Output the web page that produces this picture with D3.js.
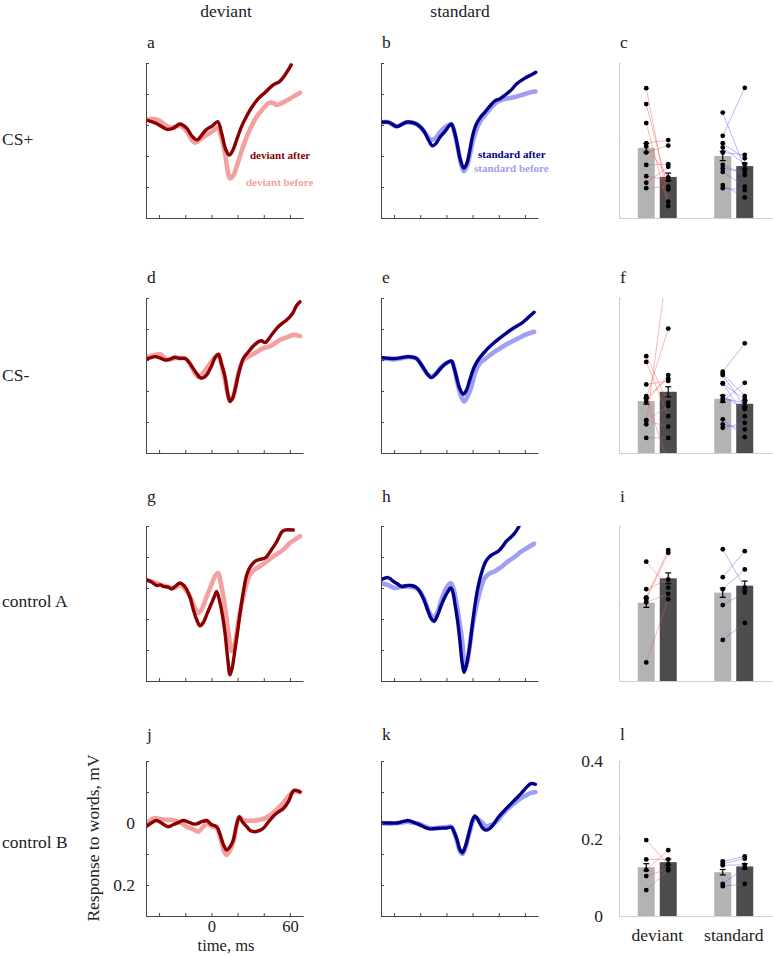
<!DOCTYPE html>
<html><head><meta charset="utf-8">
<script src="https://cdn.jsdelivr.net/npm/d3@7"></script>
<style>
body{margin:0;background:#fff;}
svg text{font-family:"Liberation Serif","DejaVu Serif","Times New Roman",serif;}
</style></head><body><svg id="chart" width="773" height="955" font-family="Liberation Serif, DejaVu Serif, serif"></svg>
<script>
// ---------------- DATA ----------------
const columnTitles = ["deviant", "standard"];
const rowLabels = ["CS+", "CS-", "control A", "control B"];
const panelLetters = [["a","b","c"],["d","e","f"],["g","h","i"],["j","k","l"]];
const timeTicks = [-40, -20, 0, 20, 40, 60];
const timeTickLabels = [0, 60];
const ampTicks = [-0.2, -0.1, 0, 0.1, 0.2, 0.3];
const ampTickLabels = [0, 0.2];
const barTicks = [0, 0.2, 0.4];
const conditions = ["deviant", "standard"];
const sessions = ["before", "after"];
const legendA = ["deviant after", "deviant before"];
const legendB = ["standard after", "standard before"];

// traces: [time (ms), response (mV)]
const csPlusDevAfter = [[-50,-0.016],[-43,-0.007],[-38,0.005],[-34,0.014],[-29,0.010],[-24,-0.003],[-19,0.010],[-15,0.035],[-11,0.048],[-7,0.030],[-3.6,0.014],[1,0.002],[4.8,-0.011],[8,0.030],[11,0.080],[13.7,0.097],[16,0.085],[19.3,0.048],[23,0.005],[27,-0.029],[31,-0.058],[36,-0.086],[41,-0.105],[47,-0.129],[52,-0.140],[56,-0.160],[61,-0.194]];
const csPlusDevBefore = [[-50,-0.016],[-45,-0.020],[-40.6,-0.016],[-36,-0.002],[-32,0.008],[-28,0.006],[-24,0.003],[-19,0.020],[-15,0.048],[-12.5,0.057],[-8,0.045],[-3.6,0.032],[1,0.020],[4.8,0.008],[7.5,0.040],[10.4,0.091],[12.5,0.150],[14.2,0.172],[16.5,0.165],[19.3,0.134],[23,0.085],[27,0.038],[30.5,0.005],[34.6,-0.027],[39,-0.050],[43.5,-0.070],[46.5,-0.072],[49.8,-0.065],[54.9,-0.073],[60,-0.085],[64,-0.095],[67.7,-0.104]];
const csPlusStdAfter = [[-50,-0.009],[-44.6,-0.009],[-41,-0.002],[-38.2,0.005],[-34,-0.002],[-30.6,-0.009],[-26,-0.008],[-22.9,-0.003],[-19.5,0.008],[-16.6,0.024],[-13.5,0.050],[-10.7,0.067],[-8,0.060],[-5.1,0.040],[-1,0.020],[2,0.003],[3.8,-0.003],[6,0.020],[8.2,0.061],[10.5,0.110],[13.3,0.139],[15.5,0.125],[17.8,0.083],[20,0.035],[22.9,-0.003],[26,-0.025],[29.3,-0.041],[33,-0.060],[37,-0.078],[41,-0.085],[45.9,-0.100],[50,-0.115],[53.5,-0.132],[57,-0.143],[61.2,-0.154],[65,-0.162],[68.3,-0.170]];
const csPlusStdBefore = [[-50,-0.009],[-44.6,-0.009],[-38.2,0.005],[-30.6,-0.009],[-22.9,-0.003],[-19.5,0.008],[-16.6,0.024],[-13.5,0.042],[-11.5,0.048],[-8,0.042],[-5.1,0.024],[-1,0.008],[3.8,-0.003],[6.5,0.030],[9,0.080],[11.5,0.130],[13.3,0.149],[15.5,0.135],[17.8,0.099],[21,0.040],[25.5,-0.009],[30,-0.035],[34,-0.055],[38.2,-0.073],[43,-0.082],[48.4,-0.087],[52,-0.090],[56,-0.095],[60,-0.100],[63.7,-0.105],[68,-0.108]];

const csMinusDevAfter = [[-50,-0.003],[-46,-0.008],[-43,-0.011],[-39,-0.006],[-35.5,0],[-31,-0.004],[-28,-0.009],[-24,-0.005],[-20,-0.005],[-17,0.008],[-14,0.027],[-11,0.045],[-8.7,0.057],[-6,0.057],[-3.6,0.048],[0,0.020],[3,-0.010],[5.3,-0.019],[7.5,0.010],[10.4,0.054],[12.5,0.110],[14.2,0.134],[16,0.125],[18,0.097],[21,0.040],[24.4,-0.005],[28,-0.025],[32,-0.045],[35.9,-0.059],[38.5,-0.062],[41,-0.056],[45,-0.075],[49.9,-0.102],[54,-0.118],[57.5,-0.129],[62,-0.150],[65,-0.175],[67.7,-0.188]];
const csMinusDevBefore = [[-50,-0.008],[-44,-0.015],[-39,-0.019],[-34,0],[-28,-0.006],[-20,-0.005],[-16,0.015],[-13,0.040],[-10,0.054],[-5,0.035],[-1,0.011],[2,-0.005],[5.3,-0.016],[8,0.020],[11,0.080],[14.2,0.129],[16.5,0.120],[19,0.075],[21.5,0.030],[24.4,0],[28,-0.010],[33,-0.022],[39.7,-0.038],[45,-0.045],[52.4,-0.065],[57,-0.072],[62.6,-0.081],[67.7,-0.077]];
const csMinusStdAfter = [[-50,-0.008],[-45,-0.006],[-39.5,-0.005],[-34,-0.008],[-29.3,-0.011],[-26,-0.009],[-23,-0.005],[-20,0.010],[-16.6,0.032],[-14,0.048],[-11.5,0.057],[-8,0.045],[-3.8,0.024],[0,0.010],[3.8,0.003],[5.8,0.025],[7.6,0.054],[10,0.090],[12.7,0.110],[15,0.100],[17.8,0.065],[21,0.025],[24.2,0],[29,-0.025],[34.4,-0.048],[40,-0.068],[47.1,-0.091],[52,-0.105],[57.3,-0.118],[62,-0.135],[67,-0.154]];
const csMinusStdBefore = [[-50,-0.005],[-44,-0.003],[-39.5,-0.002],[-34,-0.006],[-29.3,-0.010],[-23,-0.005],[-20,0.010],[-16.6,0.034],[-14,0.048],[-11.5,0.054],[-8,0.043],[-3.8,0.022],[0,0.010],[3.8,0.005],[6.5,0.035],[9,0.085],[11.5,0.120],[13.5,0.134],[16,0.118],[19.1,0.086],[22,0.040],[25.5,0.011],[30,-0.005],[37,-0.027],[43,-0.043],[49.7,-0.059],[55,-0.070],[59.9,-0.081],[64,-0.087],[67,-0.091]];

const ctrlADevAfter = [[-50,-0.027],[-46,-0.020],[-41.8,-0.008],[-39,-0.010],[-36.7,-0.005],[-33,-0.003],[-30.4,0.003],[-27,-0.008],[-24,-0.016],[-21,-0.008],[-18.9,0.005],[-16,0.035],[-13.8,0.070],[-11,0.105],[-8.7,0.122],[-6,0.110],[-3.6,0.086],[0,0.050],[2.5,0.025],[4,0.011],[6.6,0.048],[8.5,0.090],[10.4,0.145],[12.5,0.230],[14.2,0.280],[16,0.255],[18,0.199],[20,0.140],[21.9,0.081],[24.5,0.010],[27,-0.043],[30,-0.070],[33.3,-0.086],[37,-0.092],[41,-0.097],[46,-0.124],[50,-0.150],[53.7,-0.180],[56,-0.187],[62.6,-0.187]];
const ctrlADevBefore = [[-50,-0.027],[-45,-0.020],[-39.2,-0.011],[-34,-0.005],[-29,0],[-26,-0.005],[-24,-0.011],[-20,0.005],[-16.4,0.027],[-13,0.060],[-10,0.081],[-7,0.065],[-3.6,0.027],[0,-0.010],[3,-0.040],[5.3,-0.048],[7,-0.020],[9.1,0.027],[11,0.080],[13,0.145],[15.5,0.204],[17.5,0.185],[19.3,0.145],[21.5,0.085],[24.4,0.027],[27,-0.015],[29.5,-0.043],[33,-0.060],[37.1,-0.070],[42,-0.085],[47.3,-0.102],[51,-0.112],[55,-0.124],[60,-0.145],[64,-0.157],[67.7,-0.167]];
const ctrlAStdAfter = [[-50,-0.027],[-47,-0.032],[-45,-0.034],[-43,-0.030],[-40.8,-0.022],[-37,-0.012],[-34.4,-0.005],[-30,-0.008],[-26.8,-0.008],[-23,-0.002],[-20.4,0.011],[-17,0.040],[-14,0.075],[-11.5,0.100],[-9.4,0.108],[-6.5,0.085],[-3.8,0.054],[0,0.020],[3.3,0],[5,0.015],[6.4,0.048],[8.5,0.105],[10.2,0.167],[12,0.240],[13.5,0.272],[15.5,0.245],[17.8,0.188],[19.8,0.120],[21.7,0.059],[24,0.000],[26.8,-0.048],[30,-0.085],[33.1,-0.102],[36,-0.110],[39.5,-0.118],[42.5,-0.132],[45.9,-0.151],[49,-0.163],[52.2,-0.177],[55,-0.195],[57,-0.215]];
const ctrlAStdBefore = [[-50,-0.016],[-45,-0.010],[-39.5,0],[-34,-0.004],[-29.3,-0.005],[-25,-0.002],[-21.7,0.005],[-17,0.035],[-14,0.070],[-11.5,0.090],[-9.4,0.097],[-6.5,0.075],[-3.8,0.038],[0,0.000],[3.3,-0.016],[5.5,0.005],[7.6,0.048],[10,0.110],[12,0.167],[14,0.263],[15.8,0.240],[17.8,0.188],[20,0.120],[22.9,0.059],[26,0.005],[29.3,-0.032],[33,-0.047],[37,-0.054],[42,-0.068],[47.1,-0.086],[52,-0.100],[57.3,-0.118],[62,-0.130],[67,-0.143]];

const ctrlBDevAfter = [[-50,0.012],[-46,0.000],[-41.8,-0.008],[-37,0.003],[-33,0.012],[-29,0.005],[-25,-0.002],[-21.5,-0.008],[-17,-0.002],[-14,0.003],[-11.3,0.003],[-7,-0.005],[-3.6,-0.008],[0,0.005],[4,0.012],[6.5,0.035],[9,0.068],[11.7,0.087],[14,0.078],[16.8,0.054],[19,0.010],[21.3,-0.020],[23.5,-0.005],[27,0.012],[30,0.025],[33.3,0.028],[37,0.024],[39.7,0.017],[43,0.000],[47.3,-0.022],[51,-0.035],[55,-0.047],[59,-0.070],[62.6,-0.104],[65,-0.105],[67.7,-0.100]];
const ctrlBDevBefore = [[-50,0.006],[-44.4,-0.015],[-38,-0.012],[-33,-0.010],[-29,-0.010],[-23,0.000],[-18.9,0.012],[-14,0.020],[-10,0.028],[-6,0.010],[-3.6,0.001],[0,0.010],[4,0.017],[7,0.050],[9.5,0.090],[11.7,0.103],[14,0.090],[16.8,0.060],[19,0.015],[21.3,-0.018],[24,-0.010],[27,-0.008],[33,-0.008],[39.7,-0.013],[45,-0.025],[49.8,-0.043],[55,-0.065],[60,-0.091],[64,-0.103],[67.7,-0.100]];
const ctrlBStdAfter = [[-50,0],[-44,0],[-38.2,0],[-33,-0.005],[-29.3,-0.008],[-25,-0.002],[-20.4,0.006],[-16,0.015],[-12.7,0.019],[-9,0.018],[-5.1,0.017],[0,0.016],[3.8,0.014],[6,0.030],[8.2,0.055],[10.2,0.085],[12.2,0.096],[14.5,0.075],[17.8,0.023],[20,-0.010],[21.7,-0.023],[23.5,-0.015],[25.5,0.001],[28,0.018],[30.1,0.023],[33,0.018],[35.7,0.006],[40,-0.020],[45.9,-0.047],[50,-0.065],[53.5,-0.080],[57,-0.095],[61.2,-0.115],[64.5,-0.127],[68,-0.125]];
const ctrlBStdBefore = [[-50,0],[-44,0.002],[-38.2,0.001],[-33,-0.002],[-29.3,-0.004],[-25,0.000],[-20.4,0.003],[-16,0.012],[-12.7,0.017],[-5.1,0.015],[0,0.013],[3.8,0.012],[6,0.030],[8.2,0.060],[10.2,0.090],[12.2,0.100],[14.5,0.080],[17.8,0.028],[20,-0.005],[21.7,-0.018],[23.5,-0.013],[26.8,-0.004],[30.6,0.012],[33,0.008],[37,0.000],[41,-0.018],[45.9,-0.042],[50,-0.057],[53.5,-0.069],[57,-0.080],[61.2,-0.090],[64.5,-0.097],[68,-0.100]];

// bar panels: means & SEM in order [dev before, dev after, std before, std after]
const csPlusMeans = [0.181, 0.106, 0.160, 0.134];
const csPlusSem = [0.011, 0.010, 0.012, 0.008];
const csMinusMeans = [0.134, 0.158, 0.140, 0.127];
const csMinusSem = [0.008, 0.013, 0.009, 0.008];
const ctrlAMeans = [0.202, 0.265, 0.228, 0.246];
const ctrlASem = [0.012, 0.014, 0.012, 0.012];
const ctrlBMeans = [0.126, 0.139, 0.113, 0.128];
const ctrlBSem = [0.009, 0.008, 0.007, 0.007];

// individual subjects (paired before -> after)
const csPlusDevSubjBefore = [0.335, 0.294, 0.245, 0.193, 0.185, 0.169, 0.137, 0.108, 0.091, 0.077];
const csPlusDevSubjAfter  = [0.042, 0.074, 0.031, 0.201, 0.105, 0.187, 0.139, 0.098, 0.132, 0.081];
const csPlusStdSubjBefore = [0.272, 0.212, 0.193, 0.182, 0.169, 0.137, 0.128, 0.119, 0.085, 0.077];
const csPlusStdSubjAfter  = [0.128, 0.336, 0.154, 0.139, 0.163, 0.111, 0.119, 0.081, 0.053, 0.072];
const csMinusDevSubjBefore = [0.250, 0.235, 0.147, 0.074, 0.143, 0.132, 0.083, 0.039, 0.177, 0.085, 0.140];
const csMinusDevSubjAfter  = [0.130, 0.095, -0.030, 0.500, 0.192, 0.201, 0.068, 0.039, 0.186, 0.121, 0.321];
const csMinusStdSubjBefore = [0.210, 0.201, 0.205, 0.180, 0.179, 0.147, 0.140, 0.134, 0.087, 0.074, 0.065];
const csMinusStdSubjAfter  = [0.283, 0.119, 0.147, 0.095, 0.139, 0.113, 0.130, 0.181, 0.041, 0.061, 0.078];
const ctrlADevSubjBefore = [0.308, 0.237, 0.216, 0.210, 0.203, 0.048];
const ctrlADevSubjAfter  = [0.241, 0.262, 0.338, 0.331, 0.225, 0.211];
const ctrlAStdSubjBefore = [0.340, 0.268, 0.237, 0.196, 0.106];
const ctrlAStdSubjAfter  = [0.241, 0.335, 0.288, 0.228, 0.150];
const ctrlBDevSubjBefore = [0.196, 0.146, 0.119, 0.103, 0.067];
const ctrlBDevSubjAfter  = [0.133, 0.146, 0.170, 0.122, 0.118];
const ctrlBStdSubjBefore = [0.141, 0.135, 0.131, 0.083, 0.077];
const ctrlBStdSubjAfter  = [0.154, 0.148, 0.132, 0.124, 0.083];

// ---------------- LAYOUT ----------------
const FONT = '"Liberation Serif", "DejaVu Serif", "Times New Roman", serif';
const FS = 17.5;
const svg = d3.select("#chart");
const rowTops = [63, 298, 526, 761];
const panelH = 155;
const lineCols = [[146, 303], [381, 538]];
const barRange = [619, 772];
const letterY = [48, 283, 502, 740];
const rowLabelY = [145, 381, 607, 848];
const colors = {
  dev: {before: "#f5a0a0", after: "#8b0000", link: "#f05a5a"},
  std: {before: "#a0a0f2", after: "#00008b", link: "#5a5af0"}
};
const barFill = {before: "#b3b3b3", after: "#4d4d4d"};

const traces = [
  [[csPlusDevBefore, csPlusDevAfter], [csPlusStdBefore, csPlusStdAfter]],
  [[csMinusDevBefore, csMinusDevAfter], [csMinusStdBefore, csMinusStdAfter]],
  [[ctrlADevBefore, ctrlADevAfter], [ctrlAStdBefore, ctrlAStdAfter]],
  [[ctrlBDevBefore, ctrlBDevAfter], [ctrlBStdBefore, ctrlBStdAfter]]
];
const barMeans = [csPlusMeans, csMinusMeans, ctrlAMeans, ctrlBMeans];
const barSems = [csPlusSem, csMinusSem, ctrlASem, ctrlBSem];
const subjects = [
  [[csPlusDevSubjBefore, csPlusDevSubjAfter], [csPlusStdSubjBefore, csPlusStdSubjAfter]],
  [[csMinusDevSubjBefore, csMinusDevSubjAfter], [csMinusStdSubjBefore, csMinusStdSubjAfter]],
  [[ctrlADevSubjBefore, ctrlADevSubjAfter], [ctrlAStdSubjBefore, ctrlAStdSubjAfter]],
  [[ctrlBDevSubjBefore, ctrlBDevSubjAfter], [ctrlBStdSubjBefore, ctrlBStdSubjAfter]]
];

const defs = svg.append("defs");
function label(x, y, txt, size, anchor) {
  return svg.append("text").attr("x", x).attr("y", y).attr("text-anchor", anchor || "start")
    .attr("font-family", FONT).attr("font-size", size || FS).attr("fill", "#222").text(txt);
}

// column titles
label(226, 17, columnTitles[0], FS, "middle");
label(460, 17, columnTitles[1], FS, "middle");

rowTops.forEach((top, r) => {
  const bottom = top + panelH;
  const isLast = r === 3;
  label(2, rowLabelY[r], rowLabels[r]);

  // ---- line panels
  [0, 1].forEach(c => {
    const cond = c === 0 ? "dev" : "std";
    const [x0, x1] = lineCols[c];
    const x = d3.scaleLinear().domain([-50, 70]).range([x0, x1]);
    const y = d3.scaleLinear().domain([-0.2, 0.3]).range([top, bottom]);
    const id = `clip-${r}-${c}`;
    defs.append("clipPath").attr("id", id).append("rect")
      .attr("x", x0).attr("y", top).attr("width", x1 - x0).attr("height", panelH);
    const g = svg.append("g");
    label(x0 + 1, letterY[r], panelLetters[r][c]);

    const line = d3.line().x(d => x(d[0])).y(d => y(d[1])).curve(d3.curveCatmullRom.alpha(0.5));
    const [bef, aft] = traces[r][c];
    const pg = g.append("g").attr("clip-path", `url(#${id})`);
    pg.append("path").attr("d", line(bef)).attr("fill", "none")
      .attr("stroke", colors[cond].before).attr("stroke-width", 4.6).attr("stroke-linejoin", "round").attr("stroke-linecap", "round");
    pg.append("path").attr("d", line(aft)).attr("fill", "none")
      .attr("stroke", colors[cond].after).attr("stroke-width", 3.4).attr("stroke-linejoin", "round").attr("stroke-linecap", "round");

    const showLab = isLast && c === 0;
    const xa = d3.axisBottom(x).tickValues(timeTicks).tickSize(-3).tickSizeOuter(0).tickPadding(4)
      .tickFormat(d => showLab && timeTickLabels.includes(d) ? d3.format("d")(d) : "");
    const ya = d3.axisLeft(y).tickValues(ampTicks).tickSize(-3).tickSizeOuter(0).tickPadding(11)
      .tickFormat(d => showLab && ampTickLabels.includes(d) ? (d === 0 ? "0" : d3.format(".1f")(d)) : "");
    const gx = g.append("g").attr("transform", `translate(0,${bottom})`).call(xa);
    const gy = g.append("g").attr("transform", `translate(${x0},0)`).call(ya);
    gx.attr("font-family", FONT).attr("font-size", 16.5);
    gy.attr("font-family", FONT).attr("font-size", FS);
    [gx, gy].forEach(ax => {
      ax.select(".domain").attr("stroke", "#444");
      ax.selectAll(".tick line").attr("stroke", "#444");
      ax.selectAll("text").attr("fill", "#222");
    });

    if (r === 0) {
      const leg = c === 0 ? legendA : legendB;
      const pos = c === 0 ? [[250, 159], [246, 186]] : [[478, 158], [474, 172]];
      label(pos[0][0], pos[0][1], leg[0], 11).attr("font-weight", "bold").attr("fill", colors[cond].after);
      label(pos[1][0], pos[1][1], leg[1], 11).attr("font-weight", "bold").attr("fill", colors[cond].before);
    }
  });

  // ---- bar panel
  const xb = d3.scaleBand().domain(conditions).range(barRange).paddingInner(0.4).paddingOuter(0.2);
  const xs = d3.scaleBand().domain(sessions).range([0, xb.bandwidth()]).paddingInner(0.227).paddingOuter(0.157);
  const yb = d3.scaleLinear().domain([0, 0.4]).range([bottom, top]);
  const bid = `clipb-${r}`;
  defs.append("clipPath").attr("id", bid).append("rect")
    .attr("x", barRange[0]).attr("y", top).attr("width", barRange[1] - barRange[0]).attr("height", panelH);
  const gb = svg.append("g");
  label(barRange[0] + 1, letterY[r], panelLetters[r][2]);

  const ya = d3.axisLeft(yb).tickValues(barTicks).tickSize(-2).tickSizeOuter(0).tickPadding(16)
    .tickFormat(d => isLast ? (d === 0 ? "0" : d3.format(".1f")(d)) : "");
  const xa = d3.axisBottom(xb).tickSize(0).tickSizeOuter(0).tickPadding(13)
    .tickFormat(d => isLast ? d : "");
  [gb.append("g").attr("transform", `translate(${barRange[0]},0)`).call(ya),
   gb.append("g").attr("transform", `translate(0,${bottom})`).call(xa)].forEach(ax => {
    ax.attr("font-family", FONT).attr("font-size", FS);
    ax.select(".domain").attr("stroke", "#cfcfcf");
    ax.selectAll(".tick line").attr("stroke", "#cfcfcf");
    ax.selectAll("text").attr("fill", "#222");
  });

  const bars = [];
  conditions.forEach((cond, ci) => sessions.forEach((s, si) => {
    bars.push({cond, s, ci, m: barMeans[r][ci * 2 + si], e: barSems[r][ci * 2 + si]});
  }));
  const bx = d => xb(d.cond) + xs(d.s);
  gb.selectAll("rect.bar").data(bars).join("rect").attr("class", "bar")
    .attr("x", bx).attr("width", xs.bandwidth())
    .attr("y", d => yb(d.m)).attr("height", d => bottom - yb(d.m))
    .attr("fill", d => barFill[d.s]);

  const cg = gb.append("g").attr("clip-path", `url(#${bid})`);
  conditions.forEach((cond, ci) => {
    const key = ci === 0 ? "dev" : "std";
    const [bef, aft] = subjects[r][ci];
    const xB = xb(cond) + xs("before") + xs.bandwidth() / 2;
    const xA = xb(cond) + xs("after") + xs.bandwidth() / 2;
    const pairs = bef.map((v, i) => [v, aft[i]]);
    cg.selectAll(null).data(pairs).join("line")
      .attr("x1", xB).attr("x2", xA).attr("y1", d => yb(d[0])).attr("y2", d => yb(d[1]))
      .attr("stroke", colors[key].link).attr("stroke-opacity", 0.55).attr("stroke-width", 0.8);
  });

  const cap = 3;
  bars.forEach(d => {
    const cx = bx(d) + xs.bandwidth() / 2;
    const eg = gb.append("g").attr("stroke", "#000").attr("stroke-width", 1.2);
    eg.append("line").attr("x1", cx).attr("x2", cx).attr("y1", yb(d.m - d.e)).attr("y2", yb(d.m + d.e));
    eg.append("line").attr("x1", cx - cap).attr("x2", cx + cap).attr("y1", yb(d.m - d.e)).attr("y2", yb(d.m - d.e));
    eg.append("line").attr("x1", cx - cap).attr("x2", cx + cap).attr("y1", yb(d.m + d.e)).attr("y2", yb(d.m + d.e));
  });

  conditions.forEach((cond, ci) => {
    sessions.forEach((s, si) => {
      const vals = subjects[r][ci][si];
      const cx = xb(cond) + xs(s) + xs.bandwidth() / 2;
      cg.selectAll(null).data(vals).join("circle")
        .attr("cx", cx).attr("cy", d => yb(d)).attr("r", 2.4).attr("fill", "#000");
    });
  });
});

// axis titles
svg.append("text").attr("transform", "translate(99,838) rotate(-90)").attr("text-anchor", "middle")
  .attr("font-family", FONT).attr("font-size", FS).attr("fill", "#222").text("Response to words, mV");
label(226, 950.5, "time, ms", 16.5, "middle");
</script></body></html>
